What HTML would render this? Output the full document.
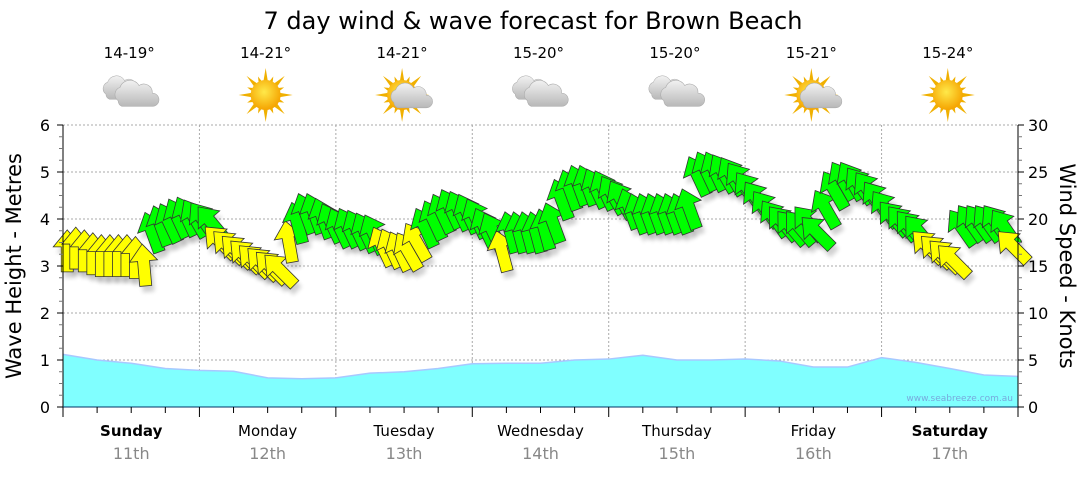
<!DOCTYPE html>
<html><head><meta charset="utf-8"><style>
body{margin:0;background:#fff;width:1080px;height:475px;overflow:hidden;font-family:"Liberation Sans",sans-serif}
svg text{font-family:"DejaVu Sans","Liberation Sans",sans-serif}
</style></head><body>
<svg id="c" width="1080" height="475" xmlns="http://www.w3.org/2000/svg">
<defs>
<radialGradient id="sun" cx="45%" cy="40%" r="60%"><stop offset="0" stop-color="#ffe94a"/><stop offset="1" stop-color="#f5a300"/></radialGradient>
<linearGradient id="cloud" x1="0" y1="0" x2="0" y2="1"><stop offset="0" stop-color="#f2f2f2"/><stop offset="1" stop-color="#b8b8b8"/></linearGradient>
<filter id="sh" x="-50%" y="-50%" width="200%" height="200%"><feGaussianBlur stdDeviation="2"/></filter>
</defs>
</svg>
<script>
const days=["Sunday","Monday","Tuesday","Wednesday","Thursday","Friday","Saturday"];
const dates=["11th","12th","13th","14th","15th","16th","17th"];
const boldDays=[true,false,false,false,false,false,true];
const temps=["14-19°","14-21°","14-21°","15-20°","15-20°","15-21°","15-24°"];
const icons=["cloud","sun","suncloud","cloud","cloud","suncloud","sun"];
const waveHeights=[1.12,1.0,0.93,0.82,0.78,0.76,0.62,0.6,0.62,0.72,0.75,0.82,0.92,0.93,0.93,1.0,1.02,1.1,1.0,1.0,1.02,0.98,0.85,0.85,1.05,0.95,0.82,0.68,0.65];
const windSpeeds=[16.5,16.8,16.5,16.2,16.0,16.0,16.0,16.0,15.8,15.0,
18.5,19.2,19.5,20,20.2,20,19.8,19.5,
17.5,17,16.5,16,15.5,15.2,14.8,14.5,17.5,
19.5,20.5,20.5,20,19.5,19,19,18.8,18.5,18.3,
17,16.8,16.5,16.5,17.5,
19,19.8,20.5,21,20.8,20.5,20,
19,18.5,16.5,
18.5,18.5,18.5,18.5,18.8,19.5,
22,23,23.5,23.5,23.2,23,22.5,22,
21,20.5,20.5,20.5,20.5,20.5,20.5,21,
24.5,25,25,24.8,24.5,24,23,
22,21,20,19.5,19,19,19.5,18.5,
21,23,24,24,23.5,23,
22,21,20,19.5,19,18.5,
17,16.5,16,15.5,
19,19.5,19.5,19.5,19.5,19,
17];
const windDirs=[0,0,0,0,0,0,0,0,0,-5,
-20,-20,-25,-25,-25,-30,-35,-40,
-45,-45,-45,-45,-45,-45,-45,-45,-10,
-15,-20,-20,-20,-25,-25,-25,-25,-25,-25,
-25,-25,-25,-30,-30,
-25,-25,-25,-25,-25,-25,-25,
-25,-25,-15,
-15,-15,-15,-15,-15,-20,
-20,-20,-20,-20,-25,-25,-30,-30,
-20,-20,-20,-20,-20,-20,-20,-20,
-25,-25,-25,-30,-30,-35,-35,
-35,-35,-35,-40,-40,-40,-40,-45,
-30,-30,-30,-30,-35,-35,
-35,-35,-40,-40,-40,-40,
-45,-45,-45,-45,
-35,-35,-35,-35,-35,-35,
-45];
const waveTicks=[0,1,2,3,4,5,6];
const windTicks=[0,5,10,15,20,25,30];

const svg=document.getElementById('c');const NS="http://www.w3.org/2000/svg";
function el(t,a,p){const e=document.createElementNS(NS,t);for(const k in a)e.setAttribute(k,a[k]);(p||svg).appendChild(e);return e;}
const X0=63,X1=1018,Y0=407,Y1=125,DW=(X1-X0)/7;
const yW=v=>Y0-(v/6)*(Y0-Y1);
const yK=v=>Y0-(v/30)*(Y0-Y1);
const xH=h=>X0+h/24*DW;

let t=el('text',{x:533,y:29,'text-anchor':'middle','font-size':24,fill:'#000'});t.textContent="7 day wind & wave forecast for Brown Beach";



const grid=el('g',{});


waveTicks.slice(1).forEach(v=>el('line',{x1:X0,x2:X1,y1:yW(v),y2:yW(v),stroke:'#aaa','stroke-dasharray':'2,2'},grid));
for(let d=1;d<7;d++)el('line',{x1:X0+d*DW,x2:X0+d*DW,y1:Y1,y2:Y0,stroke:'#aaa','stroke-dasharray':'2,2'},grid);

let pts=waveHeights.map((v,i)=>xH(i*6)+','+yW(v));
const area=el('polygon',{points:X0+','+Y0+' '+pts.join(' ')+' '+X1+','+Y0,fill:'#80ffff'});


el('polyline',{points:pts.join(' '),fill:'none',stroke:'#a8c8ff','stroke-width':1.5});
t=el('text',{x:1013,y:401,'text-anchor':'end','font-size':9,fill:'#7ad'});t.textContent="www.seabreeze.com.au";



const arrG=el('g',{});


const shape="0,-22 14,-5 6,-5 6,20 -6,20 -6,-5 -14,-5";
windSpeeds.forEach((v,i)=>{
  const x=xH((i+0.5)*1.5),y=yK(v);
  el('polygon',{points:shape,fill:'#000',opacity:0.18,filter:'url(#sh)',transform:`translate(${x+3},${y+6}) rotate(${windDirs[i]})`},arrG);
});
windSpeeds.forEach((v,i)=>{
  const x=xH((i+0.5)*1.5),y=yK(v);
  const a=el('polygon',{points:shape,fill:v<18?'#ffff00':'#00ff00',stroke:'#333','stroke-width':0.8,transform:`translate(${x},${y}) rotate(${windDirs[i]})`},arrG);
  
  
});

const ax=el('g',{stroke:'#000','stroke-width':1});


el('line',{x1:X0,x2:X0,y1:Y1,y2:Y0+10},ax);
el('line',{x1:X1,x2:X1,y1:Y1,y2:Y0+10},ax);
el('line',{x1:X0,x2:X1,y1:Y0,y2:Y0,stroke:'#036'},ax);
for(let v=0;v<=6;v+=0.25){const y=yW(v),L=(v%1===0)?6:4;el('line',{x1:X0-L,x2:X0,y1:y,y2:y,stroke:v%1===0?'#000':'#777'},ax);}
for(let v=0;v<=30;v+=1.25){const y=yK(v),L=(v%5===0)?6:4;el('line',{x1:X1,x2:X1+L,y1:y,y2:y,stroke:v%5===0?'#000':'#777'},ax);}
for(let h=0;h<=168;h+=6){const x=xH(h);el('line',{x1:x,x2:x,y1:Y0,y2:Y0+(h%24===0?10:6)},ax);}
waveTicks.forEach(v=>{const t=el('text',{x:50,y:yW(v)+6,'text-anchor':'end','font-size':16,fill:'#000'});t.textContent=v;

});
windTicks.forEach(v=>{const t=el('text',{x:1028,y:yK(v)+6,'font-size':16,fill:'#000'});t.textContent=v;

});
t=el('text',{x:0,y:0,transform:'translate(21,266) rotate(-90)','text-anchor':'middle','font-size':21});t.textContent="Wave Height - Metres";


t=el('text',{x:0,y:0,transform:'translate(1060,266) rotate(90)','text-anchor':'middle','font-size':21});t.textContent="Wind Speed - Knots";



days.forEach((d,i)=>{
  const cx=X0+(i+0.5)*DW;
  let t=el('text',{x:cx,y:436,'text-anchor':'middle','font-size':15,'font-weight':boldDays[i]?'bold':'normal'});t.textContent=d;
  
  
  t=el('text',{x:cx,y:459,'text-anchor':'middle','font-size':16,fill:'#888'});t.textContent=dates[i];
  
  
  t=el('text',{x:cx-2,y:58,'text-anchor':'middle','font-size':15});t.textContent=temps[i];
  
  
  const g=el('g',{transform:`translate(${cx-2},95)`});
  
  
  const sun=(s)=>{for(let k=0;k<16;k++){const a=k*Math.PI/8,r=k%2?20:27;el('polygon',{points:`${Math.cos(a)*r},${Math.sin(a)*r} ${Math.cos(a+0.25)*11},${Math.sin(a+0.25)*11} ${Math.cos(a-0.25)*11},${Math.sin(a-0.25)*11}`,fill:'#f0b000'},g);}el('circle',{r:15,fill:'url(#sun)'},g);};
  const cloud=(dx,dy,s)=>{const c=el('g',{transform:`translate(${dx},${dy}) scale(${s})`,fill:'url(#cloud)',stroke:'#aaa','stroke-width':0.6},g);
    el('path',{d:'M-18,6 a8,8 0 0 1 2,-14 a11,11 0 0 1 20,-2 a9,9 0 0 1 14,8 a7,7 0 0 1 0,14 h-32 a7,7 0 0 1 -4,-6z'},c);};
  if(icons[i]==="sun")sun();
  else if(icons[i]==="cloud"){cloud(-8,-6,0.85);cloud(6,0,0.95);}
  else{sun();cloud(8,2,0.9);}
});
</script>
</body></html>
